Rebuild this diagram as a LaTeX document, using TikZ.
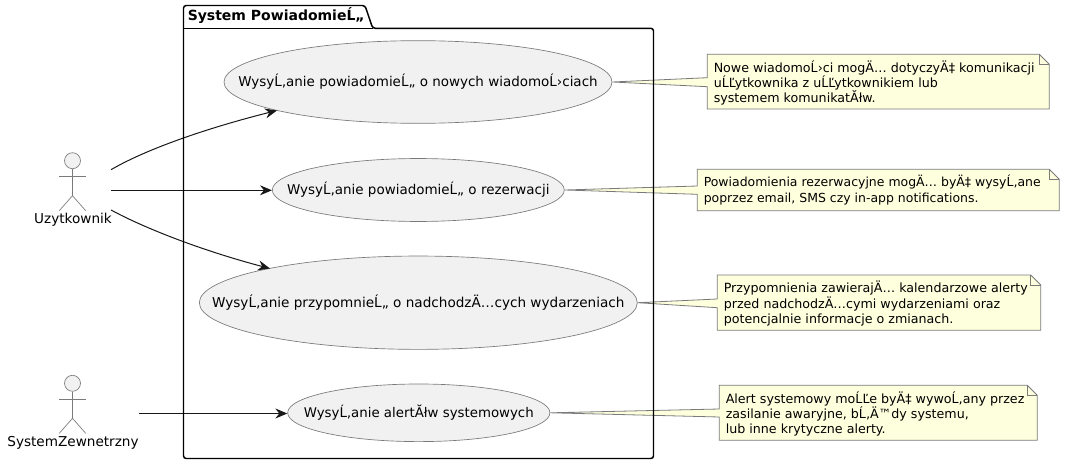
\documentclass[tikz,border=0pt]{standalone}
\usepackage{fontspec}
\setmainfont{DejaVu Sans}
\usetikzlibrary{shapes.geometric,arrows.meta,calc}
\definecolor{notefill}{HTML}{FEFFDD}
\definecolor{usefill}{HTML}{F1F1F1}
\definecolor{edgegray}{HTML}{7A7A7A}
\definecolor{arrowink}{HTML}{181818}
\tikzset{
  usecase/.style={ellipse,draw=edgegray,fill=usefill,line width=0.5pt,inner sep=0pt},
  link/.style={draw=arrowink,line width=0.75pt,-{Stealth[length=9pt,width=7.5pt,inset=3pt]}},
  actorline/.style={draw=edgegray,line width=0.5pt},
  actorhead/.style={circle,draw=edgegray,fill=usefill,line width=0.5pt,inner sep=0pt,minimum size=12pt},
  actorlabel/.style={inner sep=0pt,font=\fontsize{10.2}{12}\selectfont},
  notetext/.style={anchor=north west,inner sep=0pt,align=left,font=\fontsize{9.5}{11.5}\selectfont},
  noteshape/.style={draw=edgegray,fill=notefill,line width=0.6pt,line join=miter},
  pkg/.style={draw=black,line width=1.1pt,rounded corners=2pt}
}
\newcommand{\usetext}[2]{\raisebox{1pt}{\makebox[0pt][c]{\fontsize{#1}{12}\selectfont #2}}}
\newcommand{\notebox}[8]{%
  \coordinate (#1nw) at (#2,#3);
  \coordinate (#1ne) at (#4,#3);
  \coordinate (#1se) at (#4,#5);
  \coordinate (#1sw) at (#2,#5);
  \coordinate (#1wa) at (#2,#6);
  \coordinate (#1wb) at (#2,#7);
  \path[noteshape] (#1nw) -- ($(#1ne)+(-10,0)$) -- ($(#1ne)+(0,10)$) -- (#1se) -- (#1sw) -- (#1wb) -- (#8.east) -- (#1wa) -- cycle;
  \draw[noteshape,fill=none] ($(#1ne)+(-10,0)$) -- ($(#1ne)+(-10,10)$) -- ($(#1ne)+(0,10)$);
}
\begin{document}
\begin{tikzpicture}[x=0.75pt,y=-0.75pt]
\useasboundingbox (0,0) rectangle (1065,464);
% use cases
\node[usecase,minimum width=291pt,minimum height=62pt] (e1) at (418,82) {\usetext{10.1}{WysyĹ‚anie powiadomieĹ„ o nowych wiadomoĹ›ciach}};
\node[usecase,minimum width=219pt,minimum height=47.2pt] (e2) at (418.3,190) {\usetext{10.1}{WysyĹ‚anie powiadomieĹ„ o rezerwacji}};
\node[usecase,minimum width=328.5pt,minimum height=70pt] (e3) at (418.3,302.7) {\usetext{10.2}{WysyĹ‚anie przypomnieĹ„ o nadchodzÄ…cych wydarzeniach}};
\node[usecase,minimum width=196.7pt,minimum height=43.2pt] (e4) at (418.8,412.8) {\usetext{10}{WysyĹ‚anie alertĂłw systemowych}};
% actors
\foreach \n/\lab/\hy in {a1/Uzytkownik/160.7,a2/SystemZewnetrzny/383.3}{
  \node[actorhead] (\n head) at (72.5,\hy) {};
  \coordinate (\n hip) at (72.5,\hy+35);
  \draw[actorline] (\n head.south) -- (\n hip);
  \draw[actorline] (59.3,\hy+15.6) -- (85.7,\hy+15.6);
  \draw[actorline] (59.3,\hy+50) -- (\n hip) -- (85.7,\hy+50);
  \node[actorlabel] (\n label) at (73,\hy+59.5) {\lab};
}
% connector ends
\coordinate (s1) at (111,169.7);
\coordinate (s2) at (111,190.3);
\coordinate (s3) at (111,210);
\coordinate (s4) at (139,413.5);
\coordinate (t1) at (277,110.5);
\coordinate (t3) at (270,268.5);
\draw[link] (s1) .. controls (150,147) and (215,126) .. (t1);
\draw[link] (s2) -- (e2.west |- s2);
\draw[link] (s3) .. controls (148,230) and (207,252) .. (t3);
\draw[link] (s4) -- (e4.west |- s4);
% notes
\notebox{n1}{707.3}{54.3}{1049.3}{109}{77.7}{86.7}{e1}
\node[notetext] (n1t) at (713.5,60) {Nowe wiadomoĹ›ci mogÄ… dotyczyÄ‡ komunikacji\\uĹĽytkownika z uĹĽytkownikiem lub\\systemem komunikatĂłw.};
\notebox{n2}{697.3}{169.3}{1059.3}{210.7}{186}{194.3}{e2}
\node[notetext,font=\fontsize{9.35}{11.5}\selectfont] (n2t) at (703.5,175) {Powiadomienia rezerwacyjne mogÄ… byÄ‡ wysyĹ‚ane\\poprzez email, SMS czy in-app notifications.};
\notebox{n3}{717.3}{275}{1040.7}{330.3}{299}{307.7}{e3}
\node[notetext] (n3t) at (723.5,281) {Przypomnienia zawierajÄ… kalendarzowe alerty\\przed nadchodzÄ…cymi wydarzeniami oraz\\potencjalnie informacje o zmianach.};
\notebox{n4}{719.3}{385.3}{1037.3}{440.3}{409}{417}{e4}
\node[notetext] (n4t) at (725.5,391) {Alert systemowy moĹĽe byÄ‡ wywoĹ‚any przez\\zasilanie awaryjne, bĹ‚Ä™dy systemu,\\lub inne krytyczne alerty.};
% package, drawn over the note pointers
\coordinate (pa) at (183.5,28.3);
\coordinate (pb) at (183.5,458.5);
\coordinate (pc) at (653.5,458.5);
\coordinate (pd) at (653.5,28.3);
\draw[pkg] (pb) -- (pa) -- (183.5,5.5) -- (365,5.5) -- (372.7,28.3) -- (pd) -- (pc) -- cycle;
\draw[draw=black,line width=1.1pt] (pa) -- (372.7,28.3);
\node[anchor=base west,inner sep=0pt,font=\bfseries\fontsize{10.5}{12}\selectfont] (pkgtitle) at (187.5,21) {System PowiadomieĹ„};
\end{tikzpicture}
\end{document}
